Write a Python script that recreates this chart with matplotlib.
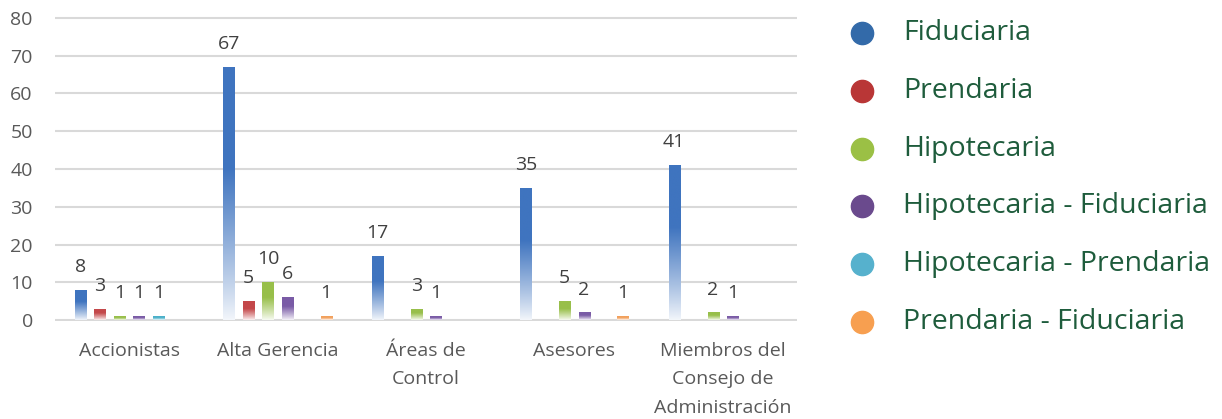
import numpy as np
import matplotlib
matplotlib.use("Agg")
import matplotlib.pyplot as plt
from matplotlib.lines import Line2D
from matplotlib.colors import to_rgb

categories = ["Accionistas", "Alta Gerencia", "Áreas de\nControl", "Asesores",
              "Miembros del\nConsejo de\nAdministración"]
series_names = ["Fiduciaria", "Prendaria", "Hipotecaria",
                "Hipotecaria - Fiduciaria", "Hipotecaria - Prendaria",
                "Prendaria - Fiduciaria"]
fiduciaria = [8, 67, 17, 35, 41]
prendaria = [3, 5, 0, 0, 0]
hipotecaria = [1, 10, 3, 5, 2]
hip_fiduciaria = [1, 6, 1, 2, 1]
hip_prendaria = [1, 0, 0, 0, 0]
pren_fiduciaria = [0, 1, 0, 1, 0]
values = [fiduciaria, prendaria, hipotecaria, hip_fiduciaria, hip_prendaria, pren_fiduciaria]
yticks = [0, 10, 20, 30, 40, 50, 60, 70, 80]

bar_colors = ["#3f74bf", "#c4484a", "#98bf4a", "#7a5ba6", "#4bb0c9", "#f2a05c"]
legend_colors = ["#336aa9", "#b93636", "#9bc045", "#6a4a8d", "#56b1cd", "#f79f50"]
legend_text_color = "#1e5c3c"
label_color = "#404040"
tick_color = "#595959"

W, H = 1222, 419
fig = plt.figure(figsize=(W / 100, H / 100), dpi=100)
plt.rcParams["font.family"] = ["Open Sans", "DejaVu Sans"]

ylo, yhi = -0.3, 80.5
ppu = (320 - 18) / 80.0
bottom_px = 320 + (0 - ylo) * ppu
top_px = 18 - (yhi - 80) * ppu
ax = fig.add_axes([55 / W, 1 - bottom_px / H, (797 - 55) / W, (bottom_px - top_px) / H])
ax.set_xlim(-0.5, 4.5)
ax.set_ylim(ylo, yhi)
for s in ax.spines.values():
    s.set_visible(False)
ax.set_yticks(yticks)
ax.yaxis.grid(True, color="#d9d9d9", linewidth=1.5)
ax.set_axisbelow(True)
ax.tick_params(axis="y", length=0, pad=16, labelsize=14, labelcolor=tick_color)
ax.set_xticks(np.arange(len(categories)))
ax.set_xticklabels(categories, fontsize=14, color=tick_color, linespacing=1.75)
ax.tick_params(axis="x", length=0, pad=15)

x = np.arange(len(categories))
slot = 0.131
width = 0.075


def gradient_fill(patch, color):
    bx, by = patch.get_x(), patch.get_y()
    bw, bh = patch.get_width(), patch.get_height()
    if bh <= 0:
        return
    c = np.array(to_rgb(color))
    t = np.linspace(0, 1, 256)[:, None]  # 0 bottom -> 1 top
    mix = np.clip(t / 0.6, 0, 1) ** 0.9
    base = 0.06
    mix = base + (1 - base) * mix
    img = (1 - mix) * np.ones(3) + mix * c
    img = img[:, None, :]
    im = ax.imshow(img, extent=(bx, bx + bw, by, by + bh), origin="lower",
                   aspect="auto", interpolation="bilinear", zorder=2)
    im.set_clip_path(patch)


for i, (vals, col) in enumerate(zip(values, bar_colors)):
    pos = x + (i - 2.5) * slot
    bars = ax.bar(pos, vals, width=width, facecolor="none", edgecolor="none", zorder=2)
    for p, v in zip(bars.patches, vals):
        if v > 0:
            gradient_fill(p, col)
            ax.annotate(str(v), (p.get_x() + p.get_width() / 2, v),
                        xytext=(0, 10), textcoords="offset points",
                        ha="center", va="bottom", fontsize=14, color=label_color)

ax.set_xlim(-0.5, 4.5)
ax.set_ylim(ylo, yhi)

# legend drawn at fixed figure positions
for k, (name, col) in enumerate(zip(series_names, legend_colors)):
    yp = 1 - (33 + k * 57.8) / H
    fig.add_artist(Line2D([862 / W], [yp], marker="o", markersize=16,
                          markerfacecolor=col, markeredgecolor=col,
                          linestyle="none", transform=fig.transFigure))
    fig.text(903 / W, yp, name, va="center", ha="left", fontsize=20.5,
             color=legend_text_color, family=["Open Sans", "DejaVu Sans"])

fig.savefig("out.png", dpi=100, facecolor="white")
